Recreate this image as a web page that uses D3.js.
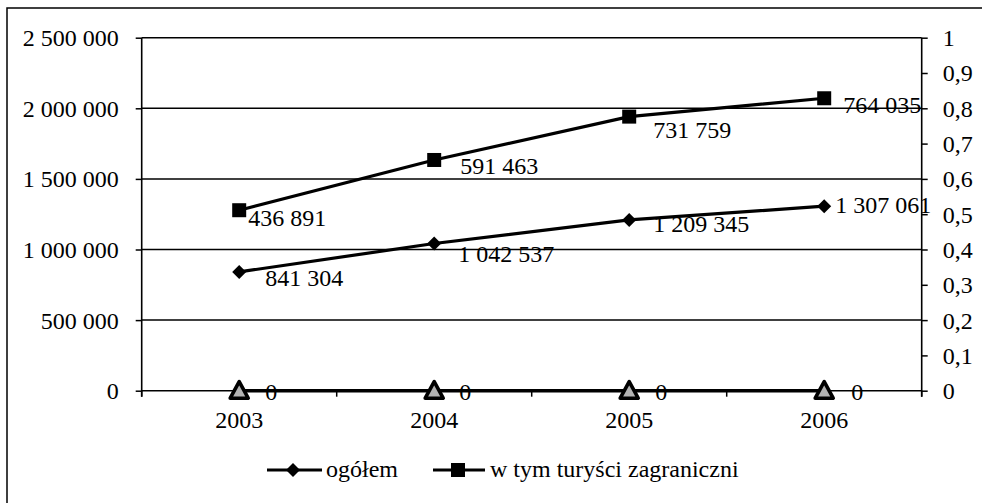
<!DOCTYPE html>
<html>
<head>
<meta charset="utf-8">
<script src="https://cdn.jsdelivr.net/npm/d3@7"></script>
<style>
  html, body { margin: 0; padding: 0; background: #fff; }
  svg { display: block; }
  svg text { font-family: "Liberation Serif", "Times New Roman", "DejaVu Serif", serif !important; fill: #000; }
</style>
</head>
<body>
<svg id="chart" width="982" height="503" font-family="Liberation Serif"></svg>
<script>
// ---- data ----
const years = ["2003", "2004", "2005", "2006"];
const ogolem = [841304, 1042537, 1209345, 1307061];
const zagraniczni = [436891, 591463, 731759, 764035];
const trzecia = [0, 0, 0, 0];
const leftTicks = [0, 500000, 1000000, 1500000, 2000000, 2500000];
const rightTicks = [0, 0.1, 0.2, 0.3, 0.4, 0.5, 0.6, 0.7, 0.8, 0.9, 1];
const legendLabels = ["ogółem", "w tym turyści zagraniczni"];

// ---- layout (label nudges in px, not data) ----
const nudgeOgolem = [[26, 14], [24, 19], [24, 12], [11, 7]];
const nudgeZagr = [[9, 16], [26, 14], [24, 21.5], [19, 14.7]];
const nudgeZero = [[26, 9], [25, 9], [26, 9], [27, 9]];

const svg = d3.select("#chart");
const FS = 24;
const plot = { left: 141.7, right: 921.7, top: 37.7, bottom: 390.7 };

const loc = d3.formatLocale({ decimal: ",", thousands: " ", grouping: [3], currency: ["", ""] });
const fmtInt = loc.format(",d");
const fmtDec = loc.format(".1~f");

// outer border
svg.append("rect").attr("x", 7).attr("y", 8).attr("width", 1000).attr("height", 520)
  .attr("fill", "none").attr("stroke", "#000").attr("stroke-width", 1.5);

const x = d3.scaleBand().domain(years).range([plot.left, plot.right]).padding(0);
const cx = d => x(d) + x.bandwidth() / 2;
const yL = d3.scaleLinear().domain([0, 2500000]).range([plot.bottom, plot.top]);
const yR = d3.scaleLinear().domain([0, 1]).range([plot.bottom, plot.top]);

// stacked values
const table = years.map((y, i) => ({ year: y, ogolem: ogolem[i], zagraniczni: zagraniczni[i] }));
const stacked = d3.stack().keys(["ogolem", "zagraniczni"])(table);

// gridlines
svg.append("g").selectAll("line").data(leftTicks.filter(t => t > 0)).join("line")
  .attr("x1", plot.left).attr("x2", plot.right)
  .attr("y1", d => yL(d)).attr("y2", d => yL(d))
  .attr("stroke", "#000").attr("stroke-width", 1.5);

// left axis
const gL = svg.append("g").attr("transform", `translate(${plot.left},0)`)
  .call(d3.axisLeft(yL).tickValues(leftTicks).tickFormat(fmtInt).tickSize(6).tickPadding(17).tickSizeOuter(0));
gL.attr("font-family", null).attr("font-size", null);
gL.select(".domain").remove();
gL.selectAll(".tick line").attr("stroke", "#000").attr("stroke-width", 1.5);
gL.selectAll(".tick text").attr("font-size", FS).attr("dy", "0.33em");
svg.append("line").attr("x1", plot.left).attr("x2", plot.left).attr("y1", plot.top).attr("y2", plot.bottom + 6)
  .attr("stroke", "#000").attr("stroke-width", 1.6);

// right axis
const gR = svg.append("g").attr("transform", `translate(${plot.right},0)`)
  .call(d3.axisRight(yR).tickValues(rightTicks).tickFormat(fmtDec).tickSize(6).tickPadding(15).tickSizeOuter(0));
gR.attr("font-family", null).attr("font-size", null);
gR.select(".domain").remove();
gR.selectAll(".tick line").attr("stroke", "#000").attr("stroke-width", 1.5);
gR.selectAll(".tick text").attr("font-size", FS).attr("dy", "0.33em");
svg.append("line").attr("x1", plot.right).attr("x2", plot.right).attr("y1", plot.top).attr("y2", plot.bottom + 6)
  .attr("stroke", "#000").attr("stroke-width", 1.6);

// x axis
svg.append("line").attr("x1", plot.left).attr("x2", plot.right).attr("y1", plot.bottom).attr("y2", plot.bottom)
  .attr("stroke", "#000").attr("stroke-width", 1.6);
const bounds = years.map(y => x(y)).concat([plot.right]);
svg.append("g").selectAll("line").data(bounds).join("line")
  .attr("x1", d => d).attr("x2", d => d).attr("y1", plot.bottom).attr("y2", plot.bottom + 6)
  .attr("stroke", "#000").attr("stroke-width", 1.5);
svg.append("g").selectAll("text").data(years).join("text")
  .attr("x", d => cx(d)).attr("y", 427.5).attr("text-anchor", "middle").attr("font-size", FS).text(d => d);

// series lines
const lineGen = d3.line().x(d => cx(d.data.year)).y(d => yL(d[1]));
svg.append("path").datum(stacked[0]).attr("d", lineGen)
  .attr("fill", "none").attr("stroke", "#000").attr("stroke-width", 3.2);
svg.append("path").datum(stacked[1]).attr("d", lineGen)
  .attr("fill", "none").attr("stroke", "#000").attr("stroke-width", 3.2);
const zeroLine = d3.line().x((d, i) => cx(years[i])).y(d => yR(d));
svg.append("path").datum(trzecia).attr("d", zeroLine)
  .attr("fill", "none").attr("stroke", "#000").attr("stroke-width", 3.6);

// markers
const diamond = s => `M0,${-s}L${s},0L0,${s}L${-s},0Z`;
svg.append("g").selectAll("path").data(stacked[0]).join("path")
  .attr("transform", d => `translate(${cx(d.data.year)},${yL(d[1])})`)
  .attr("d", diamond(7)).attr("fill", "#000");
svg.append("g").selectAll("rect").data(stacked[1]).join("rect")
  .attr("x", d => cx(d.data.year) - 7).attr("y", d => yL(d[1]) - 7)
  .attr("width", 14).attr("height", 14).attr("fill", "#000");
svg.append("g").selectAll("path").data(trzecia).join("path")
  .attr("transform", (d, i) => `translate(${cx(years[i])},${yR(d)})`)
  .attr("d", "M0,-9L9,7.5L-9,7.5Z")
  .attr("fill", "#b3b3b3").attr("stroke", "#000").attr("stroke-width", 3.6).attr("stroke-linejoin", "round");

// data labels
svg.append("g").selectAll("text").data(stacked[0]).join("text")
  .attr("x", (d, i) => cx(d.data.year) + nudgeOgolem[i][0])
  .attr("y", (d, i) => yL(d[1]) + nudgeOgolem[i][1])
  .attr("font-size", FS).text(d => fmtInt(d.data.ogolem));
svg.append("g").selectAll("text").data(stacked[1]).join("text")
  .attr("x", (d, i) => cx(d.data.year) + nudgeZagr[i][0])
  .attr("y", (d, i) => yL(d[1]) + nudgeZagr[i][1])
  .attr("font-size", FS).text(d => fmtInt(d.data.zagraniczni));
svg.append("g").selectAll("text").data(trzecia).join("text")
  .attr("x", (d, i) => cx(years[i]) + nudgeZero[i][0])
  .attr("y", (d, i) => yR(d) + nudgeZero[i][1])
  .attr("font-size", FS).text(d => fmtInt(d));

// legend
const legY = 470;
const leg = svg.append("g");
leg.append("line").attr("x1", 267).attr("x2", 322).attr("y1", legY).attr("y2", legY)
  .attr("stroke", "#000").attr("stroke-width", 3);
leg.append("path").attr("transform", `translate(293,${legY})`).attr("d", diamond(7)).attr("fill", "#000");
leg.append("text").attr("x", 326).attr("y", legY + 7).attr("font-size", FS).text(legendLabels[0]);
leg.append("line").attr("x1", 433).attr("x2", 485).attr("y1", legY).attr("y2", legY)
  .attr("stroke", "#000").attr("stroke-width", 3);
leg.append("rect").attr("x", 451).attr("y", legY - 7).attr("width", 14).attr("height", 14).attr("fill", "#000");
leg.append("text").attr("x", 490).attr("y", legY + 7).attr("font-size", FS).text(legendLabels[1]);
</script>
</body>
</html>
